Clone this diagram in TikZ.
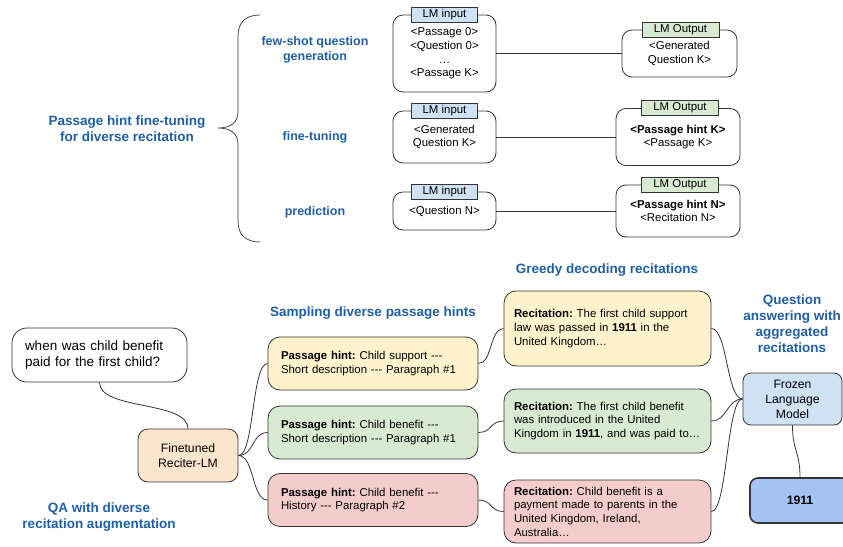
\documentclass[tikz,border=0pt]{standalone}
\usepackage{fontspec}
\setmainfont{Liberation Sans}
\newcommand\tdash{\mbox{-}\mbox{-}\mbox{-}}
\newcommand\bodyfont{\fontsize{11.4}{13.7}\selectfont}
\newcommand\midfont{\fontsize{12.2}{15}\selectfont}
\newcommand\qfont{\fontsize{13.5}{15.6}\selectfont}
\newcommand\headfont{\bfseries\fontsize{13.5}{16.2}\selectfont}
\newcommand\subheadfont{\bfseries\fontsize{12.5}{14.8}\selectfont}
\definecolor{headC}{HTML}{1F5FA6}
\definecolor{lineC}{HTML}{333333}
\definecolor{yelC}{HTML}{FFF2CC}
\definecolor{grnC}{HTML}{D9EAD3}
\definecolor{redC}{HTML}{F4CCCC}
\definecolor{peachC}{HTML}{FCE5CD}
\definecolor{lblueC}{HTML}{CFE2F3}
\definecolor{ansC}{HTML}{A4C2F4}
\begin{document}
\frenchspacing
\begin{tikzpicture}[x=1pt,y=-1pt,
  box/.style={draw=lineC, line width=0.8pt, rounded corners=10pt, inner sep=0pt, font=\bodyfont},
  tag/.style={draw=lineC, line width=0.8pt, minimum height=15pt, inner sep=0pt, font=\bodyfont},
  head/.style={text=headC, font=\headfont, align=center, inner sep=0pt},
  subhead/.style={text=headC, font=\subheadfont, align=center, inner sep=0pt},
  conn/.style={draw=lineC, line width=0.8pt},
  hintbox/.style={box, minimum width=210pt, minimum height=53pt, text width=184pt, inner xsep=13pt, align=left, rounded corners=12pt},
  recbox/.style={box, minimum width=207pt, text width=187pt, inner xsep=10pt, align=left, rounded corners=12pt}
]
\path[use as bounding box] (0,0) rectangle (843,546);
\clip (0,0) rectangle (843,546);

% ---------- top section ----------
\node[head] (pht) at (127,129) {Passage hint fine-tuning\\for diverse recitation};
\draw[lineC, line width=0.7pt] (260,15) .. controls (246,15) and (238,22) .. (238,36) -- (238,112)
  .. controls (238,123) and (230,128) .. (218,128)
  .. controls (230,128) and (238,133) .. (238,144) -- (238,221)
  .. controls (238,235) and (246,242) .. (260,242);

\node[subhead] (fsq) at (315,49.5) {few-shot question\\generation};
\node[subhead] (ftn) at (315,137) {fine-tuning};
\node[subhead] (prd) at (315,212) {prediction};

\node[box, minimum width=103pt, minimum height=77pt, align=center] (in1) at (444.5,53.5) {<Passage 0>\\<Question 0>\\…\\<Passage K>};
\node[box, minimum width=103pt, minimum height=52pt, align=center] (in2) at (444.5,137) {<Generated\\Question K>};
\node[box, minimum width=103pt, minimum height=38pt, align=center] (in3) at (444.5,211) {<Question N>};

\node[box, minimum width=115pt, minimum height=47pt, align=center] (out1) at (679.5,53.5) {<Generated\\Question K>};
\node[box, minimum width=124pt, minimum height=57pt, align=center] (out2) at (678,137) {\textbf{<Passage hint K>}\\<Passage K>};
\node[box, minimum width=124pt, minimum height=52pt, align=center] (out3) at (678,211) {\textbf{<Passage hint N>}\\<Recitation N>};

\node[tag, fill=lblueC, minimum width=66pt] (ti1) at (in1.north) {LM input};
\node[tag, fill=lblueC, minimum width=66pt] (ti2) at (in2.north) {LM input};
\node[tag, fill=lblueC, minimum width=66pt] (ti3) at (in3.north) {LM input};
\node[tag, fill=grnC, minimum width=77pt] (to1) at ([xshift=1pt]out1.north) {LM Output};
\node[tag, fill=grnC, minimum width=77pt] (to2) at ([xshift=2pt]out2.north) {LM Output};
\node[tag, fill=grnC, minimum width=77pt] (to3) at ([xshift=2pt]out3.north) {LM Output};

\draw[conn] (in1.east) -- (out1.west);
\draw[conn] (in2.east) -- (out2.west);
\draw[conn] (in3.east) -- (out3.west);

% ---------- bottom section ----------
\node[box, rounded corners=15pt, minimum width=175pt, minimum height=54pt, text width=149pt, inner xsep=13pt, align=left, font=\qfont] (q) at (99.5,355) {when was child benefit\\paid for the first child?};
\node[box, fill=peachC, minimum width=100pt, minimum height=53pt, align=center, font=\midfont] (ftlm) at (188,455.5) {Finetuned\\Reciter-LM};
\node[head] (qa) at (99,517) {QA with diverse\\recitation augmentation};

\node[head] (samp) at (373,313) {Sampling diverse passage hints};
\node[hintbox, fill=yelC] (h1) at (373,363.5) {\textbf{Passage hint:} Child support \tdash\\Short description \tdash{} Paragraph \#1};
\node[hintbox, fill=grnC] (h2) at (373,432.5) {\textbf{Passage hint:} Child benefit \tdash\\Short description \tdash{} Paragraph \#1};
\node[hintbox, fill=redC] (h3) at (373,500) {\textbf{Passage hint:} Child benefit \tdash\\History \tdash{} Paragraph \#2};

\node[head] (greedy) at (607,270) {Greedy decoding recitations};
\node[recbox, fill=yelC, minimum height=75pt] (r1) at (607.5,328.5) {\textbf{Recitation:} The first child support\\law was passed in \textbf{1911} in the\\United Kingdom…};
\node[recbox, fill=grnC, minimum height=64pt] (r2) at (607.5,421) {\textbf{Recitation:} The first child benefit\\was introduced in the United\\Kingdom in \textbf{1911}, and was paid to…};
\node[recbox, fill=redC, minimum height=63pt] (r3) at (607.5,511.5) {\textbf{Recitation:} Child benefit is a\\payment made to parents in the\\United Kingdom, Ireland,\\Australia…};

\node[head] (qaagg) at (792,323.5) {Question\\answering with\\aggregated\\recitations};
\node[box, fill=lblueC, rounded corners=8pt, minimum width=99pt, minimum height=52pt, align=center, font=\midfont] (fz) at (792.5,399) {Frozen\\Language\\Model};
\node[box, fill=ansC, rounded corners=8pt, line width=1.6pt, minimum width=100pt, minimum height=45pt, font=\bfseries\midfont] (ans) at (800,500.5) {1911};

\draw[conn] (q.south) .. controls +(0,28) and +(0,-28) .. (ftlm.north);
\draw[conn] (ftlm.east) .. controls +(16,0) and +(-16,0) .. (h1.west);
\draw[conn] (ftlm.east) .. controls +(16,0) and +(-16,0) .. (h2.west);
\draw[conn] (ftlm.east) .. controls +(16,0) and +(-16,0) .. (h3.west);
\draw[conn] (h1.east) .. controls +(14,0) and +(-14,0) .. (r1.west);
\draw[conn] (h2.east) .. controls +(14,0) and +(-14,0) .. (r2.west);
\draw[conn] (h3.east) .. controls +(14,0) and +(-14,0) .. (r3.west);
\draw[conn] (r1.east) .. controls +(16,0) and +(-16,0) .. (fz.west);
\draw[conn] (r2.east) .. controls +(16,0) and +(-16,0) .. (fz.west);
\draw[conn] (r3.east) .. controls +(16,0) and +(-16,0) .. (fz.west);
\draw[conn] (fz.south) .. controls +(0,26) and +(0,-26) .. (ans.north);
\end{tikzpicture}
\end{document}
